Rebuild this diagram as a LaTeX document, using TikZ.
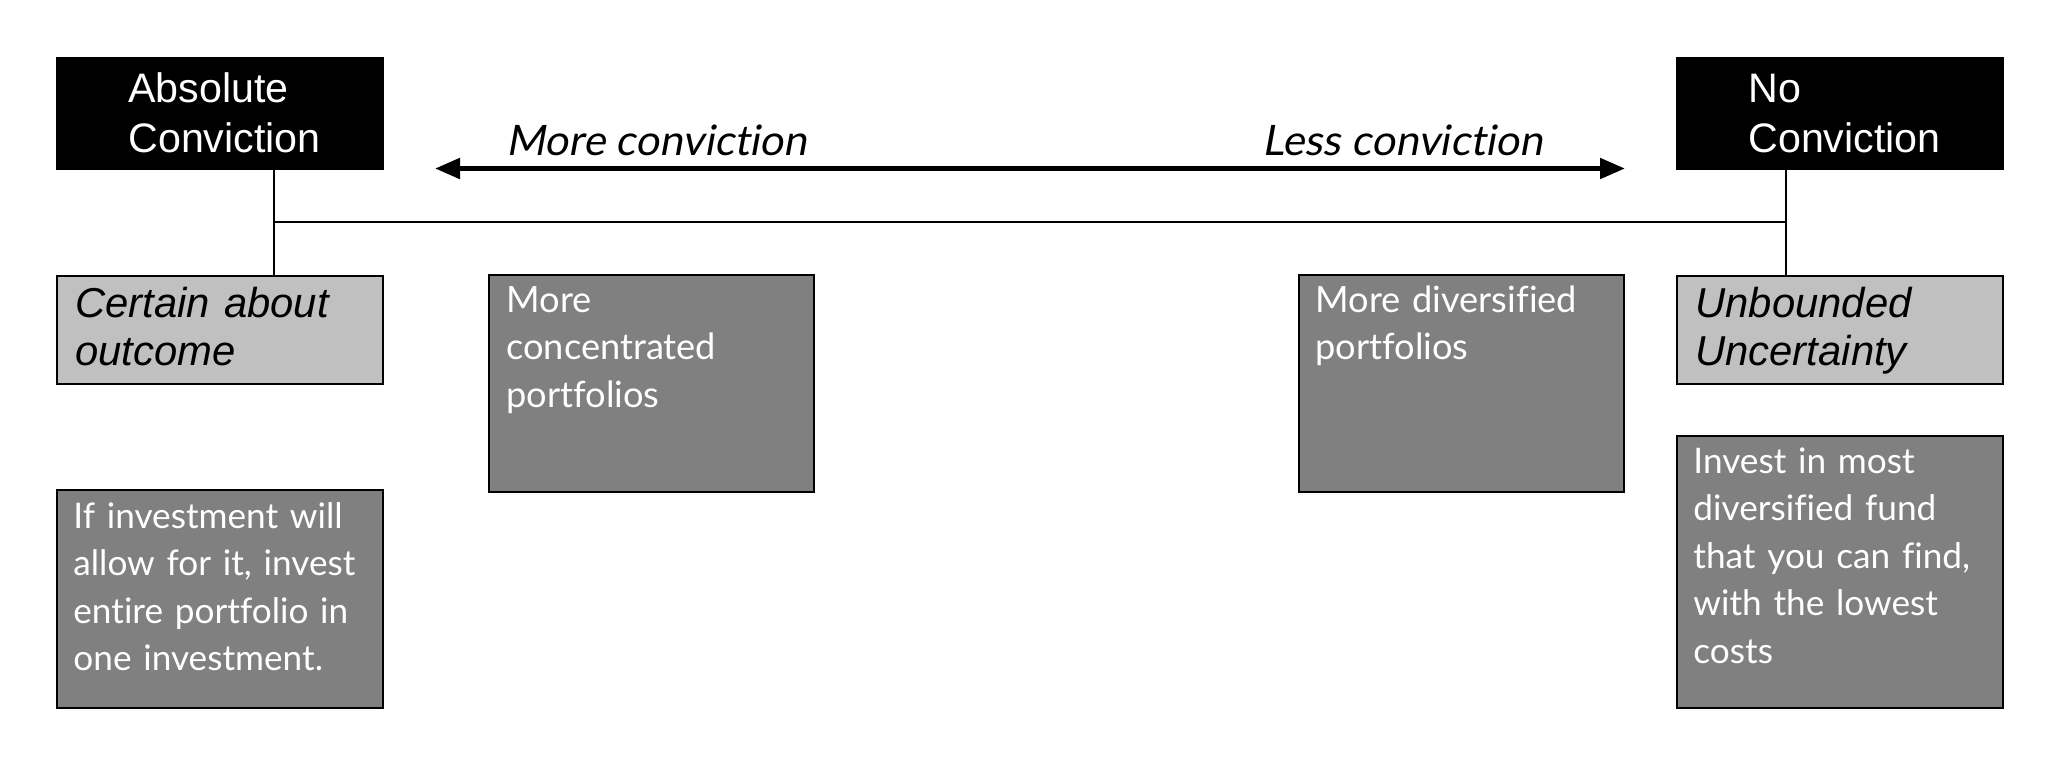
\documentclass[tikz,border=0pt]{standalone}
\usepackage{fontspec}
\setmainfont{Lato}
\newfontfamily\titlefont{Liberation Sans}
\newfontfamily\bodyfont[RawFeature=-liga]{Lato}
\newfontfamily\slantfont[FakeSlant=0.18,RawFeature=-liga]{Lato}
\usetikzlibrary{arrows.meta}
\definecolor{lightbox}{HTML}{C0C0C0}
\definecolor{darkbox}{HTML}{808080}
\tikzset{
  box/.style={draw=black, line width=1.4pt, rectangle, outer sep=0pt, inner sep=0pt},
  headbox/.style={box, fill=black},
  notebox/.style={box, fill=lightbox},
  textbox/.style={box, fill=darkbox},
  headtext/.style={anchor=base west, inner sep=0pt, text width=150pt, align=left, text=white,
    font=\titlefont\fontsize{20.6}{25}\selectfont},
  notetext/.style={anchor=base west, inner sep=0pt, text width=150pt, align=left, text=black,
    font=\titlefont\itshape\fontsize{20.9}{24}\selectfont},
  bodytext/.style={anchor=base west, inner sep=0pt, text width=150pt, align=left, text=white,
    font=\bodyfont\fontsize{17.6}{23.8}\selectfont},
  midtext/.style={bodytext, font=\bodyfont\fontsize{18.1}{23.8}\selectfont},
  scaletext/.style={anchor=base west, inner sep=0pt, text=black,
    font=\slantfont\fontsize{21}{24}\selectfont},
  link/.style={draw=black, line width=1.3pt},
  scalearrow/.style={draw=black, line width=2.5pt, {Triangle[length=12.5pt,width=10pt]}-{Triangle[length=12.5pt,width=10pt]}}
}
\begin{document}
\begin{tikzpicture}[x=0.5pt,y=-0.5pt]
\useasboundingbox[fill=white] (0,0) rectangle (2072,772);
% header boxes
\node[headbox, minimum width=163pt, minimum height=55.5pt] (A) at (220,113.5) {};
\node[headbox, minimum width=163pt, minimum height=55.5pt] (N) at (1840,113.5) {};
\node[headtext] (At) at (128,102) {Absolute\\Conviction};
\node[headtext] (Nt) at (1748,102) {No\\Conviction};
% light boxes
\node[notebox, minimum width=163pt, minimum height=54pt] (C) at (220,330) {};
\node[notebox, minimum width=163pt, minimum height=54pt] (U) at (1840,330) {};
\node[notetext] (Ct) at (75,317) {Certain about\\outcome};
\node[notetext] (Ut) at (1695,317) {Unbounded\\Uncertainty};
% dark boxes
\node[textbox, minimum width=163pt, minimum height=109pt] (D1) at (220,599) {};
\node[textbox, minimum width=162.5pt, minimum height=108.5pt] (D2) at (651.5,383.5) {};
\node[textbox, minimum width=162.5pt, minimum height=108.5pt] (D3) at (1461.5,383.5) {};
\node[textbox, minimum width=163pt, minimum height=136pt] (D4) at (1840,572) {};
\node[bodytext] (D1t) at (73,528) {If investment will\\allow for it, invest\\entire portfolio in\\one investment.};
\node[midtext] (D2t) at (506,312) {More\\concentrated\\portfolios};
\node[midtext] (D3t) at (1315,312) {More diversified\\portfolios};
\node[bodytext] (D4t) at (1693,473) {Invest in most\\diversified fund\\that you can find,\\with the lowest\\costs};
% connectors
\coordinate (jl) at (274,222);
\coordinate (jr) at (1786,222);
\draw[link] (A.south -| jl) -- (C.north -| jl);
\draw[link] (N.south -| jr) -- (U.north -| jr);
\draw[link] (jl) -- (jr);
% scale arrow
\coordinate (al) at (435,168.5);
\coordinate (ar) at (1625,168.5);
\draw[scalearrow] (al) -- (ar);
\node[scaletext] (mc) at (506,155) {More conviction};
\node[scaletext] (lc) at (1262,155) {Less conviction};
\end{tikzpicture}
\end{document}
